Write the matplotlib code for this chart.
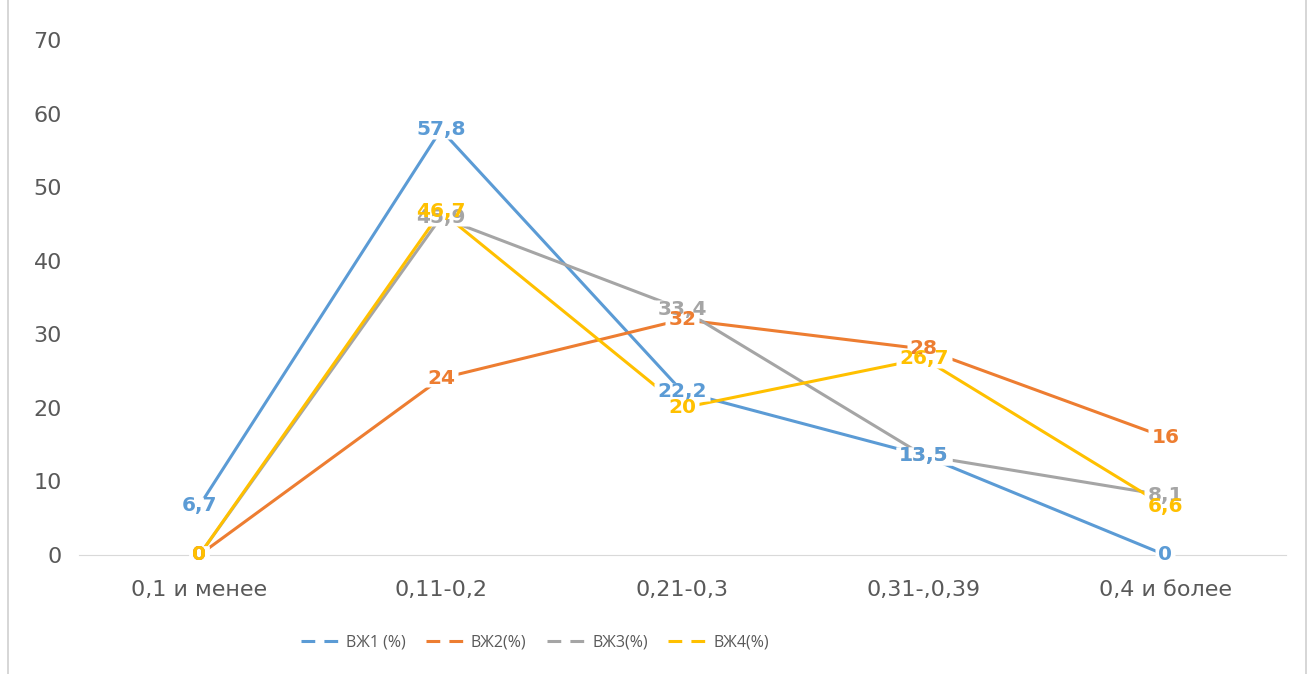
import matplotlib.pyplot as plt
from matplotlib.patches import Rectangle
from matplotlib.path import Path
import numpy as np

plt.rcParams['font.family'] = ['DejaVu Sans']

categories = ['0,1 и менее', '0,11-0,2', '0,21-0,3', '0,31-,0,39', '0,4 и более']
series_names = ['ВЖ1 (%)', 'ВЖ2(%)', 'ВЖ3(%)', 'ВЖ4(%)']
vzh1 = [6.7, 57.8, 22.2, 13.5, 0]
vzh2 = [0, 24, 32, 28, 16]
vzh3 = [0, 45.9, 33.4, 13.5, 8.1]
vzh4 = [0, 46.7, 20, 26.7, 6.6]
colors = ['#5B9BD5', '#ED7D31', '#A5A5A5', '#FFC000']

LABEL_SIZE = 14.5


def fmt(v):
    return ('%g' % v).replace('.', ',')


def label_box(s):
    # white rectangle marker roughly the size of the label (points)
    w = sum(0.38 if ch == ',' else 0.696 for ch in s) * LABEL_SIZE + 4
    h = 0.85 * LABEL_SIZE
    verts = [(-w / 2, -h / 2), (w / 2, -h / 2), (w / 2, h / 2), (-w / 2, h / 2), (-w / 2, -h / 2)]
    return Path(verts, closed=True), max(w, h)


def main():
    fig = plt.figure(figsize=(13.11, 6.74), dpi=100)
    ax = fig.add_axes([0.060, 0.1766, 0.921, 0.764])
    x = np.arange(len(categories))
    all_series = [vzh1, vzh2, vzh3, vzh4]

    for vals, name, c in zip(all_series, series_names, colors):
        ax.plot(x, vals, color=c, lw=2.2, label=name, zorder=2)

    # white boxes under the labels cut the lines, like in excel
    for vals in all_series:
        for xi, v in zip(x, vals):
            path, ms = label_box(fmt(v))
            ax.plot([xi], [v], marker=path, ms=ms, mfc='white', mec='none',
                    linestyle='none', zorder=4, clip_on=False)
    order = [2, 0, 1, 3]  # grey under the others
    for k, i in enumerate(order):
        for xi, v in zip(x, all_series[i]):
            ax.text(xi, v, fmt(v), color=colors[i], fontsize=LABEL_SIZE, fontweight='bold',
                    ha='center', va='center', zorder=5 + k)

    ax.set_xlim(-0.5, len(categories) - 0.5)
    ax.set_ylim(0, 70)
    ax.set_yticks(range(0, 71, 10))
    ax.set_xticks(x)
    ax.set_xticklabels(categories)
    ax.tick_params(axis='both', length=0, labelsize=16, colors='#595959')
    ax.tick_params(axis='x', pad=18)
    ax.tick_params(axis='y', pad=12)
    for side in ['top', 'right', 'left']:
        ax.spines[side].set_visible(False)
    ax.spines['bottom'].set_color('#D9D9D9')

    handles = [plt.Line2D([0], [0], color=c, lw=2.2, linestyle=(0, (4.5, 3)))
               for c in colors]
    fig.legend(handles, series_names, loc='center', ncol=4,
               bbox_to_anchor=(0.408, 0.047), frameon=False,
               prop={'family': ['Open Sans', 'DejaVu Sans'], 'size': 11.5},
               handlelength=2.5, handletextpad=0.3, columnspacing=1.3,
               labelcolor='#595959')

    fig.patches.append(Rectangle((0.006, -0.01), 0.99, 1.02, transform=fig.transFigure,
                                 fill=False, ec='#D0D0D0', lw=1.2))
    fig.savefig('out.png', dpi=100)


if __name__ == '__main__':
    main()
